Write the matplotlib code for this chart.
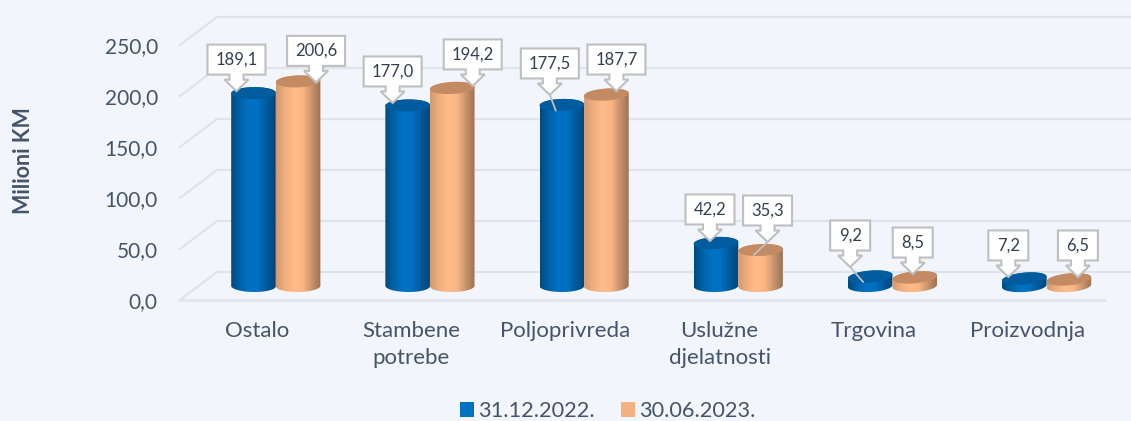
import numpy as np
import matplotlib
matplotlib.use("Agg")
import matplotlib.pyplot as plt
from matplotlib.colors import LinearSegmentedColormap
from matplotlib.patches import Patch, Polygon

categories = ["Ostalo", "Stambene\npotrebe", "Poljoprivreda", "Uslužne\ndjelatnosti", "Trgovina", "Proizvodnja"]
series_names = ["31.12.2022.", "30.06.2023."]
values_2022 = [189.1, 177.0, 177.5, 42.2, 9.2, 7.2]
values_2023 = [200.6, 194.2, 187.7, 35.3, 8.5, 6.5]
y_ticks = [0, 50, 100, 150, 200, 250]

BG = "#F2F6FC"
GRID = "#DFE3EA"
TEXT = "#44546A"
LABEL_TEXT = "#333F50"
BOX_EDGE = "#BFBFBF"
SWATCH = ["#0070C0", "#F4B183"]
TOP_COLOR = ["#005C9E", "#C28B64"]
BODY_CMAPS = [
    LinearSegmentedColormap.from_list("blue", ["#004A80", "#0062A8", "#0072C4", "#0070C0", "#005A9C", "#00467A"]),
    LinearSegmentedColormap.from_list("orange", ["#D09A72", "#F0AE7E", "#FFBC8A", "#FBB583", "#C9946C", "#9C7352"]),
]

# pixel scale of the axes
PX_X = 1 / 154.2
PX_Y = 1 / 1.02
# depth of the 3d box and where the cylinders stand in it
DEPTH_X, DEPTH_Y = 37 * PX_X, 28 * PX_Y
BAR_X, BAR_Y = 18.7 * PX_X, 14 * PX_Y
BAR_A, BAR_B = 22.3 * PX_X, 6.0 * PX_Y

# tilt of the top and bottom ellipses (px, rises to the right)
top_tilt = [[0.6, 0.8, 1.2, 2.0, 3.6, 4.0], [1.6, 2.4, 2.6, 2.0, 3.8, 4.0]]
bottom_tilt = [[-0.5, -0.5, 0, 1.0, 2.0, 2.5], [0.5, 0.5, 1.0, 1.5, 2.5, 3.0]]

# where each callout points, px from the centre of the bar top (dx, up)
tip_2022 = [(-17, 2), (-15, 2.5), (-12, 10), (-6, 2), (-20, 9.6), (-16, 1.7)]
tip_2023 = [(18, -1), (20.5, 2), (10, 3.5), (7, 8), (-2, 3.3), (9, 2.4)]
# thin line running on from the arrow tip (dx, up), same origin
leader_2022 = [None, None, (-6, -5.7), None, (-7, -5.4), None]
leader_2023 = [None, None, None, (-7, -5), None, None]


def draw_cylinder(ax, cx, value, s, i):
    t = np.linspace(0, 2 * np.pi, 80)
    base = BAR_Y
    top = value + BAR_Y
    tt, bt = top_tilt[s][i] * PX_Y, bottom_tilt[s][i] * PX_Y
    lower = np.linspace(np.pi, 2 * np.pi, 40)
    upper = np.linspace(0, np.pi, 40)
    # side wall: lower half of the base ellipse, then the far side of the top
    xs = np.r_[cx + BAR_A * np.cos(lower), cx + BAR_A * np.cos(upper)]
    ys = np.r_[base + BAR_B * np.sin(lower) + bt / 2 * np.cos(lower),
               top + BAR_B * np.sin(upper) + tt / 2 * np.cos(upper)]
    wall = Polygon(np.c_[xs, ys], closed=True, facecolor="none", edgecolor="none", zorder=3 + s * 0.5)
    ax.add_patch(wall)
    grad = np.linspace(0, 1, 128).reshape(1, -1)
    im = ax.imshow(grad, cmap=BODY_CMAPS[s], aspect="auto", interpolation="bilinear",
                   extent=(cx - BAR_A, cx + BAR_A, base - 2 * BAR_B, top + 2 * BAR_B), zorder=3 + s * 0.5)
    im.set_clip_path(wall)
    lid = Polygon(np.c_[cx + BAR_A * np.cos(t), top + BAR_B * np.sin(t) + tt / 2 * np.cos(t)],
                  closed=True, facecolor=TOP_COLOR[s], edgecolor="none", zorder=3.1 + s * 0.5)
    ax.add_patch(lid)


def draw_callout(ax, cx, value, tip, leader):
    text = f"{value:.1f}".replace(".", ",")
    width = {3: 40, 4: 49, 5: 58}[len(text)]
    top = value + BAR_Y
    tip_x = cx + tip[0] * PX_X
    tip_y = top + tip[1] * PX_Y
    mid = tip_y + 31.5 * PX_Y
    hw = width / 2 * PX_X
    hh = 15 * PX_Y
    low = mid - hh
    neck = low - 5 * PX_Y
    outline = [(tip_x - hw, mid + hh), (tip_x + hw, mid + hh), (tip_x + hw, low),
               (tip_x + 7 * PX_X, low), (tip_x + 7 * PX_X, neck), (tip_x + 12 * PX_X, neck),
               (tip_x, tip_y), (tip_x - 12 * PX_X, neck), (tip_x - 7 * PX_X, neck),
               (tip_x - 7 * PX_X, low), (tip_x - hw, low)]
    if leader is not None:
        ax.plot([tip_x, cx + leader[0] * PX_X], [tip_y, top + leader[1] * PX_Y],
                color=BOX_EDGE, lw=1.3, zorder=6, solid_capstyle="round")
    ax.add_patch(Polygon(outline, closed=True, facecolor="white", edgecolor=BOX_EDGE, lw=1.5,
                         zorder=7, clip_on=False, joinstyle="miter"))
    ax.text(tip_x, mid, text, ha="center", va="center", fontsize=12, color=LABEL_TEXT,
            zorder=8, clip_on=False)


plt.rcParams["font.family"] = ["Lato", "DejaVu Sans"]

fig = plt.figure(figsize=(11.31, 4.21), dpi=100, facecolor=BG)
ax = fig.add_axes([180 / 1131, (421 - 300) / 421, 925 / 1131, 255 / 421])
ax.set_facecolor("none")

x_left, x_right = -0.5, 5.5

# back wall, side wall and floor lines
for tick in y_ticks:
    ax.plot([x_left + DEPTH_X, x_right + DEPTH_X + 0.3], [tick + DEPTH_Y] * 2, color=GRID, lw=1.6, zorder=1, clip_on=False)
    ax.plot([x_left, x_left + DEPTH_X], [tick, tick + DEPTH_Y], color=GRID, lw=1.6, zorder=1, clip_on=False)
ax.plot([x_left, x_right], [0, 0], color=GRID, lw=1.8, zorder=1, clip_on=False)

x = np.arange(len(categories))
for i in x:
    draw_cylinder(ax, i + BAR_X - BAR_A, values_2022[i], 0, i)
    draw_cylinder(ax, i + BAR_X + BAR_A, values_2023[i], 1, i)
for i in x:
    draw_callout(ax, i + BAR_X - BAR_A, values_2022[i], tip_2022[i], leader_2022[i])
    draw_callout(ax, i + BAR_X + BAR_A, values_2023[i], tip_2023[i], leader_2023[i])

ax.set_xlim(x_left, x_right)
ax.set_ylim(0, 250)
for side in ax.spines.values():
    side.set_visible(False)

ax.set_yticks(y_ticks)
ax.set_yticklabels([f"{t:.1f}".replace(".", ",") for t in y_ticks], fontsize=15, color=TEXT)
ax.set_xticks(x)
ax.set_xticklabels(categories, fontsize=16, color=TEXT, linespacing=1.42)
ax.tick_params(axis="y", length=0, pad=16)
ax.tick_params(axis="x", length=0, pad=15)

fig.text(24 / 1131, 1 - 161 / 421, "Milioni KM", rotation=90, ha="center", va="center",
         fontsize=15.5, fontweight="bold", color=TEXT)

handles = [Patch(facecolor=c, edgecolor="none") for c in SWATCH]
fig.legend(handles, series_names, loc="center", bbox_to_anchor=(608 / 1131, 1 - 411 / 421), ncol=2,
           frameon=False, fontsize=15.7, labelcolor=TEXT, handlelength=0.65, handleheight=0.65,
           handletextpad=0.18, columnspacing=1.2, borderpad=0)

fig.savefig("out.png", dpi=100, facecolor=BG)
